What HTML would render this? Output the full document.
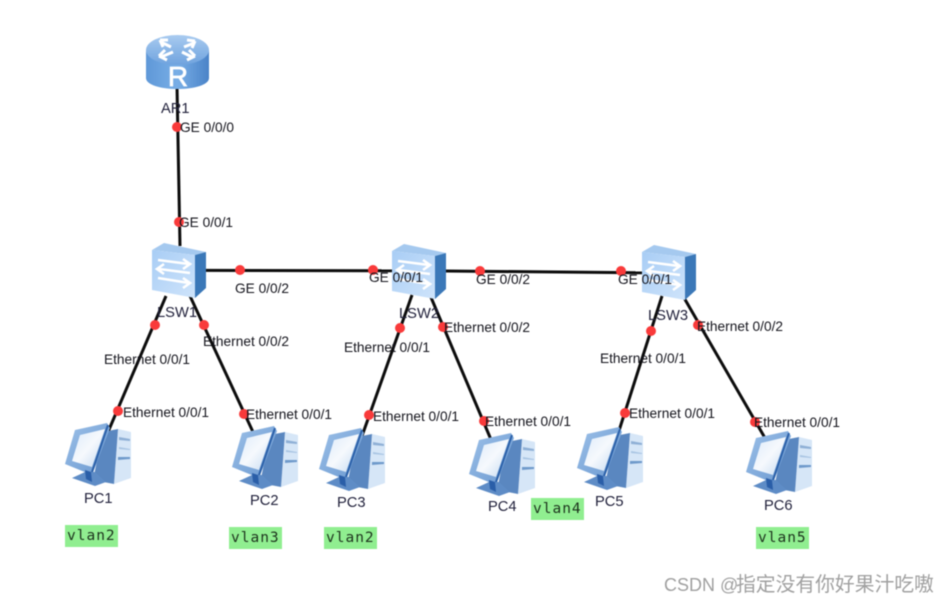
<!DOCTYPE html>
<html><head><meta charset="utf-8">
<style>
html,body{margin:0;padding:0;background:#fff;width:950px;height:605px;overflow:hidden}
svg{display:block;filter:blur(.4px)}
text{font-family:"Liberation Sans","Noto Sans CJK SC",sans-serif}
.l{font-size:13.7px;fill:#14141c}
.d{font-size:14.7px;fill:#22223c}
.v{font-family:"DejaVu Sans Mono","Liberation Mono",monospace;font-size:14.5px;fill:#1d331d;letter-spacing:1px}
</style></head><body>
<svg width="950" height="605" viewBox="0 0 950 605" xmlns="http://www.w3.org/2000/svg">
<defs>
<linearGradient id="rt" x1="0" y1="0" x2="0" y2="1"><stop offset="0" stop-color="#a9cbf0"/><stop offset="1" stop-color="#6fa3de"/></linearGradient>
<linearGradient id="rb" x1="0" y1="0" x2="1" y2="0"><stop offset="0" stop-color="#5f98d8"/><stop offset=".5" stop-color="#78aee6"/><stop offset="1" stop-color="#4a83c8"/></linearGradient>
<linearGradient id="sf" x1="0" y1="0" x2="1" y2="1"><stop offset="0" stop-color="#a8cdf5"/><stop offset="1" stop-color="#cfe4fb"/></linearGradient>
<linearGradient id="scr" x1="0" y1="0" x2="1" y2="1"><stop offset="0" stop-color="#dceafa"/><stop offset=".5" stop-color="#f6f9fd"/><stop offset="1" stop-color="#c3d9f1"/></linearGradient>
<linearGradient id="mon" x1="0" y1="0" x2="1" y2="1"><stop offset="0" stop-color="#9cc0e8"/><stop offset="1" stop-color="#6a98d0"/></linearGradient>
<g id="pc">
<polygon points="53,7 66,10 66,56 49,62" fill="#d6e6f7"/>
<polygon points="38,10 53,7 49,62 28,58" fill="#5a87c0"/>
<polygon points="54,15 65,17 65,19 54,18" fill="#8fb0d6"/>
<polygon points="54,25 65,27 65,28 54,27" fill="#a9c5e3"/>
<polygon points="53,35 65,35 65,37 53,38" fill="#6f9acb"/>
<polygon points="0,42 10,8 42,1 45,6 27,53" fill="url(#mon)"/>
<polygon points="7,39 15,13 40,7 27,45" fill="url(#scr)"/>
<line x1="43" y1="3" x2="26" y2="53" stroke="#2d62aa" stroke-width="2"/>
<polygon points="7,56 20,50 30,50 41,60 30,64" fill="#5e8cc6"/>
<polygon points="20,48 26,50 27,60 21,57" fill="#2a5ea8"/>
</g>
<g id="sw">
<polygon points="0,7 12,0 54,9 43,12" fill="#a5c9ef"/>
<polygon points="0,7 43,12 43,55 0,47" fill="url(#sf)"/>
<polygon points="43,12 54,9 54,45 43,55" fill="#3b78b8"/>
<g fill="none" stroke="#fff" stroke-width="2.6">
<path d="M6,17 L37,21 M31,16 L38,21 L31,26"/>
<path d="M38,30 L7,26 M12,21 L5,26 L12,31"/>
<path d="M6,35 L37,40 M31,35 L38,40 L31,45"/>
</g>
</g>
</defs>

<g stroke="#0c0c0c" stroke-width="3" fill="none">
<line x1="177" y1="86" x2="180" y2="246"/>
<line x1="204" y1="270.4" x2="394" y2="270.8"/>
<line x1="445" y1="271" x2="643" y2="272.8"/>
<line x1="166" y1="296" x2="108" y2="432"/>
<line x1="190" y1="296" x2="253" y2="432"/>
<line x1="412" y1="295" x2="362" y2="436"/>
<line x1="430" y1="295" x2="492" y2="442"/>
<line x1="662" y1="296" x2="617" y2="437"/>
<line x1="683" y1="296" x2="765" y2="438"/>
</g>

<!-- router -->
<g>
<path d="M146,50 V78 C146,85 161,89 177.5,89 C194,89 209,85 209,78 V50 Z" fill="url(#rb)"/>
<ellipse cx="177.5" cy="50" rx="31.5" ry="15" fill="url(#rt)"/>
<g fill="none" stroke="#fff" stroke-width="3">
<path d="M161,42 L171,47 M160,40 L168,40 M160,40 L163,47"/>
<path d="M194,43 L184,47 M195,41 L187,40 M195,41 L192,48"/>
<path d="M161,57 L173,52 M159,56 L167,60 M159,56 L165,50"/>
<path d="M192,57 L182,52 M195,56 L187,60 M195,56 L189,50"/>
</g>
<text x="178" y="86" text-anchor="middle" font-size="28" fill="#fff" stroke="#fff" stroke-width=".7">R</text>
</g>

<use href="#sw" x="152" y="243"/>
<use href="#sw" x="392" y="244"/>
<use href="#sw" x="642" y="245"/>

<use href="#pc" x="65" y="422"/>
<use href="#pc" x="232" y="425"/>
<use href="#pc" x="319" y="427"/>
<use href="#pc" x="469" y="432"/>
<use href="#pc" x="577" y="426"/>
<use href="#pc" x="746" y="430"/>

<g fill="#f93a3a">
<circle cx="177" cy="127" r="5"/><circle cx="179" cy="222" r="5"/>
<circle cx="240" cy="270" r="5"/><circle cx="373" cy="270" r="5"/>
<circle cx="480" cy="271" r="5"/><circle cx="621" cy="271" r="5"/>
<circle cx="155" cy="325" r="5"/><circle cx="204" cy="325" r="5"/>
<circle cx="118" cy="411" r="5"/><circle cx="244" cy="414" r="5"/>
<circle cx="400" cy="328" r="5"/><circle cx="443" cy="327" r="5"/>
<circle cx="369" cy="415" r="5"/><circle cx="484" cy="421" r="5"/>
<circle cx="651" cy="331" r="5"/><circle cx="698" cy="325" r="5"/>
<circle cx="625" cy="413" r="5"/><circle cx="755" cy="422" r="5"/>
</g>

<g class="lbls">
<text class="l" x="180" y="132">GE 0/0/0</text>
<text class="l" x="179" y="227">GE 0/0/1</text>
<text class="l" x="235" y="293">GE 0/0/2</text>
<text class="l" x="369" y="282">GE 0/0/1</text>
<text class="l" x="476" y="284">GE 0/0/2</text>
<text class="l" x="618" y="284">GE 0/0/1</text>
<text class="l" x="104" y="364">Ethernet 0/0/1</text>
<text class="l" x="203" y="346">Ethernet 0/0/2</text>
<text class="l" x="123" y="417">Ethernet 0/0/1</text>
<text class="l" x="246" y="419">Ethernet 0/0/1</text>
<text class="l" x="344" y="352">Ethernet 0/0/1</text>
<text class="l" x="444" y="332">Ethernet 0/0/2</text>
<text class="l" x="373" y="421">Ethernet 0/0/1</text>
<text class="l" x="485" y="426">Ethernet 0/0/1</text>
<text class="l" x="600" y="363">Ethernet 0/0/1</text>
<text class="l" x="697" y="331">Ethernet 0/0/2</text>
<text class="l" x="629" y="418">Ethernet 0/0/1</text>
<text class="l" x="754" y="427">Ethernet 0/0/1</text>
<text class="d" x="161" y="113">AR1</text>
<text class="d" x="157" y="317">LSW1</text>
<text class="d" x="399" y="318">LSW2</text>
<text class="d" x="648" y="320">LSW3</text>
<text class="d" x="84" y="503">PC1</text>
<text class="d" x="250" y="505">PC2</text>
<text class="d" x="337" y="507">PC3</text>
<text class="d" x="488" y="511">PC4</text>
<text class="d" x="595" y="506">PC5</text>
<text class="d" x="764" y="510">PC6</text>
</g>

<g fill="#90ee90">
<rect x="65" y="525" width="53" height="22"/>
<rect x="229" y="527" width="53" height="22"/>
<rect x="324" y="527" width="53" height="22"/>
<rect x="531" y="498" width="53" height="22"/>
<rect x="756" y="527" width="53" height="22"/>
</g>
<text class="v" x="67" y="540">vlan2</text>
<text class="v" x="231" y="542">vlan3</text>
<text class="v" x="326" y="542">vlan2</text>
<text class="v" x="533" y="513">vlan4</text>
<text class="v" x="758" y="542">vlan5</text>

<text x="664" y="591" fill="#a0a0a0" font-size="18">CSDN @<tspan font-size="19.8" x="736">指定没有你好果汁吃嗷</tspan></text>
</svg>
</body></html>
